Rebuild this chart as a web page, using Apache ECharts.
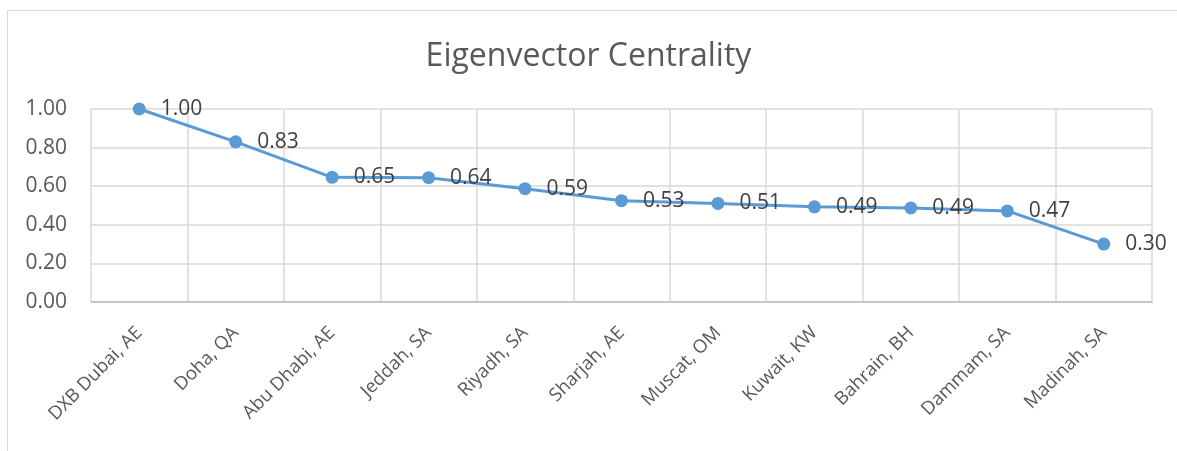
<!DOCTYPE html>
<html>
<head>
<meta charset="utf-8">
<script src="https://cdn.jsdelivr.net/npm/echarts@6/dist/echarts.min.js"></script>
<style>
html,body{margin:0;padding:0;background:#fff;}
#chart{width:1177px;height:451px;}
</style>
</head>
<body>
<div id="chart"></div>
<script>
const categories = ["DXB Dubai, AE","Doha, QA","Abu Dhabi, AE","Jeddah, SA","Riyadh, SA","Sharjah, AE","Muscat, OM","Kuwait, KW","Bahrain, BH","Dammam, SA","Madinah, SA"];
const values = [1.00, 0.83, 0.646, 0.644, 0.587, 0.525, 0.511, 0.493, 0.487, 0.472, 0.30];
const yTicks = {min: 0, max: 1, interval: 0.2};
const titleText = "Eigenvector Centrality";

const chart = echarts.init(document.getElementById('chart'), null, {renderer: 'canvas'});
chart.setOption({
  backgroundColor: '#ffffff',
  animation: false,
  title: {
    text: titleText,
    left: 'center',
    top: 36,
    textStyle: {fontFamily: 'Open Sans', fontWeight: 'normal', fontSize: 32, color: '#595959'}
  },
  graphic: [{
    type: 'rect',
    shape: {x: 7.5, y: 10.5, width: 1180, height: 460},
    style: {fill: 'none', stroke: '#d9d9d9', lineWidth: 1},
    silent: true
  }],
  grid: {left: 91, right: 25, top: 109, bottom: 149, containLabel: false},
  xAxis: {
    type: 'category',
    data: categories,
    boundaryGap: true,
    axisLine: {show: true, lineStyle: {color: '#bfbfbf', width: 1.5}},
    axisTick: {show: false},
    splitLine: {show: true, lineStyle: {color: '#d9d9d9', width: 1.5}},
    axisLabel: {
      rotate: 45, interval: 0, margin: 28,
      fontFamily: 'Open Sans', fontSize: 18.5, color: '#595959'
    }
  },
  yAxis: {
    type: 'value',
    min: yTicks.min, max: yTicks.max, interval: yTicks.interval,
    axisLine: {show: false},
    axisTick: {show: false},
    splitLine: {show: true, lineStyle: {color: '#d9d9d9', width: 1.5}},
    axisLabel: {
      margin: 24, fontFamily: 'Open Sans', fontSize: 21, color: '#595959',
      formatter: v => v.toFixed(2)
    }
  },
  series: [{
    type: 'line',
    data: values,
    symbol: 'circle',
    symbolSize: 13,
    lineStyle: {color: '#5b9bd5', width: 3},
    itemStyle: {color: '#5b9bd5'},
    label: {
      show: true, position: 'right', distance: 15,
      fontFamily: 'Open Sans', fontSize: 21, color: '#404040',
      formatter: p => p.value.toFixed(2)
    }
  }]
});
</script>
</body>
</html>
